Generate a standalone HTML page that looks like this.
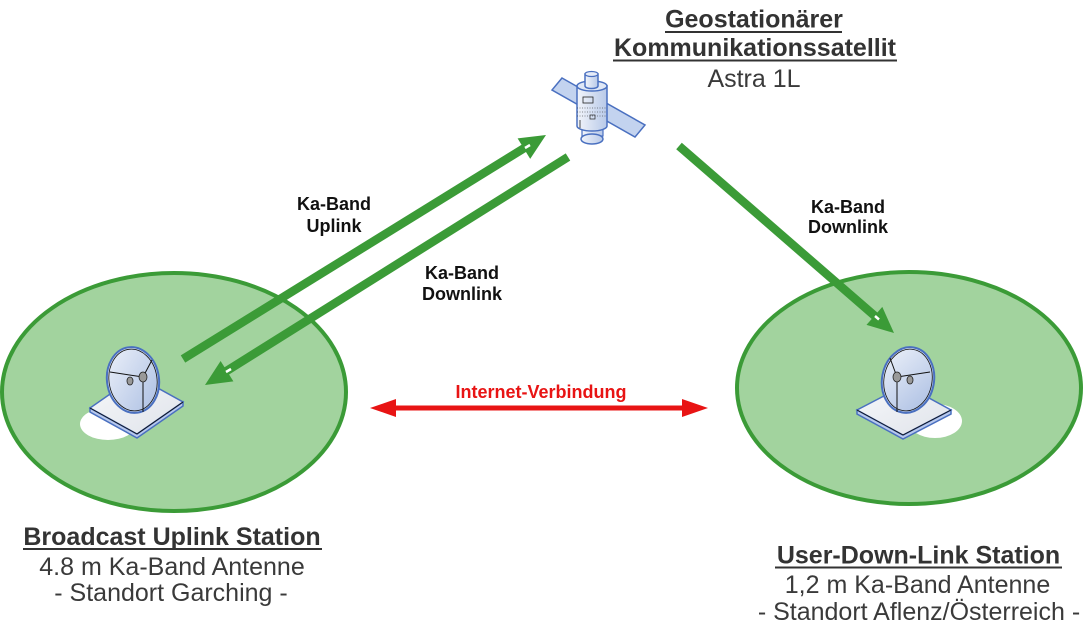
<!DOCTYPE html>
<html><head><meta charset="utf-8">
<style>
html,body{margin:0;padding:0;background:#fff;}
svg{display:block;}
text{font-family:"Liberation Sans",Arial,sans-serif;}
</style></head>
<body>
<svg width="1083" height="633" viewBox="0 0 1083 633" xmlns="http://www.w3.org/2000/svg">
<defs>
<linearGradient id="dish" x1="0" y1="0" x2="1" y2="1">
<stop offset="0" stop-color="#eef2fa"/><stop offset="1" stop-color="#a9bde2"/>
</linearGradient>
<linearGradient id="plate" x1="0" y1="0" x2="1" y2="1">
<stop offset="0" stop-color="#f7f8fa"/><stop offset="1" stop-color="#dfe3ea"/>
</linearGradient>
<linearGradient id="sat" x1="0" y1="0" x2="1" y2="0">
<stop offset="0" stop-color="#f2f5fb"/><stop offset="1" stop-color="#b8c9e8"/>
</linearGradient>
</defs>

<!-- ground ellipses -->
<ellipse cx="174" cy="392" rx="172" ry="119" fill="#a2d39e" stroke="#3b9b37" stroke-width="4"/>
<ellipse cx="909" cy="388" rx="172" ry="116" fill="#a2d39e" stroke="#3b9b37" stroke-width="4"/>

<!-- left antenna -->
<ellipse cx="108" cy="424" rx="28" ry="16" fill="#fff"/>
<polygon points="90,408 90,412 137,438 183,406 183,402 137,434" fill="#b9c9ec" stroke="#4a70c0" stroke-width="1.5"/>
<polygon points="90,408 137,434 183,402 136,376" fill="url(#plate)" stroke="#4a70c0" stroke-width="1.5"/>
<line x1="90" y1="408" x2="137" y2="434" stroke="#111" stroke-width="0.8"/>
<line x1="137" y1="434" x2="183" y2="402" stroke="#111" stroke-width="0.8"/>
<ellipse cx="133" cy="380" rx="26" ry="33" fill="url(#dish)" stroke="#4a70c0" stroke-width="2" transform="rotate(-8 133 380)"/>
<ellipse cx="133" cy="380" rx="24" ry="31" fill="none" stroke="#111" stroke-width="0.8" transform="rotate(-8 133 380)"/>
<line x1="110" y1="372" x2="143" y2="377" stroke="#111" stroke-width="1"/>
<line x1="143" y1="377" x2="152" y2="360" stroke="#111" stroke-width="1"/>
<line x1="143" y1="377" x2="143" y2="412" stroke="#111" stroke-width="1"/>
<ellipse cx="130" cy="381" rx="3" ry="4" fill="#999" stroke="#222" stroke-width="0.8"/>
<ellipse cx="143" cy="377" rx="4" ry="5" fill="#999" stroke="#222" stroke-width="0.8"/>

<!-- right antenna -->
<ellipse cx="935" cy="421" rx="27" ry="17" fill="#fff"/>
<polygon points="857,410 857,414 903,439 951,414 951,410 903,435" fill="#b9c9ec" stroke="#4a70c0" stroke-width="1.5"/>
<polygon points="857,410 903,435 951,410 905,385" fill="url(#plate)" stroke="#4a70c0" stroke-width="1.5"/>
<line x1="857" y1="410" x2="903" y2="435" stroke="#111" stroke-width="0.8"/>
<line x1="903" y1="435" x2="951" y2="410" stroke="#111" stroke-width="0.8"/>
<ellipse cx="908" cy="380" rx="26" ry="33" fill="url(#dish)" stroke="#4a70c0" stroke-width="2" transform="rotate(10 908 380)"/>
<ellipse cx="908" cy="380" rx="24" ry="31" fill="none" stroke="#111" stroke-width="0.8" transform="rotate(10 908 380)"/>
<line x1="897" y1="377" x2="930" y2="372" stroke="#111" stroke-width="1"/>
<line x1="897" y1="377" x2="890" y2="358" stroke="#111" stroke-width="1"/>
<line x1="897" y1="377" x2="897" y2="412" stroke="#111" stroke-width="1"/>
<ellipse cx="910" cy="380" rx="3" ry="4" fill="#999" stroke="#222" stroke-width="0.8"/>
<ellipse cx="897" cy="377" rx="4" ry="5" fill="#999" stroke="#222" stroke-width="0.8"/>

<!-- satellite -->
<polygon points="562,78 645,125 635,137 552,90" fill="#c3d3ef" stroke="#4a70c0" stroke-width="1.5"/>
<rect x="582" y="128" width="21" height="8" fill="url(#sat)" stroke="#4a70c0" stroke-width="1.2"/>
<ellipse cx="592" cy="139" rx="11" ry="5" fill="url(#sat)" stroke="#4a70c0" stroke-width="1.5"/>
<path d="M577,86 L577,126 A15,5 0 0 0 607,126 L607,86 Z" fill="url(#sat)" stroke="#4a70c0" stroke-width="1.5"/>
<ellipse cx="592" cy="86" rx="15" ry="5" fill="#dfe7f6" stroke="#4a70c0" stroke-width="1.5"/>
<path d="M585,74 L585,86 A6.5,2.5 0 0 0 598,86 L598,74 Z" fill="url(#sat)" stroke="#4a70c0" stroke-width="1.5"/>
<ellipse cx="591.5" cy="74" rx="6.5" ry="2.5" fill="#e6ecf8" stroke="#4a70c0" stroke-width="1.2"/>
<rect x="583" y="97" width="10" height="6" fill="none" stroke="#222" stroke-width="0.8"/>
<line x1="577" y1="108" x2="607" y2="108" stroke="#222" stroke-width="0.6" stroke-dasharray="1,1.5"/>
<line x1="577" y1="112" x2="607" y2="112" stroke="#222" stroke-width="0.6" stroke-dasharray="1,1.5"/>
<line x1="577" y1="116" x2="607" y2="116" stroke="#222" stroke-width="0.6" stroke-dasharray="1,1.5"/>
<line x1="580" y1="120" x2="580" y2="128" stroke="#222" stroke-width="0.8"/>
<rect x="590" y="115" width="5" height="4" fill="none" stroke="#222" stroke-width="0.7"/>

<!-- green arrows -->
<g stroke="#3b9b37" stroke-width="8.5" stroke-linecap="butt">
<line x1="183" y1="359" x2="526" y2="147"/>
<line x1="568" y1="157" x2="225" y2="372"/>
<line x1="679" y1="146" x2="876" y2="317"/>
</g>
<g fill="#3b9b37">
<polygon points="546,135 530.2,158.9 517.6,138.4"/>
<polygon points="205,385 233.4,381.4 220.6,361"/>
<polygon points="894,333 866.5,324.9 882.3,306.9"/>
</g>
<g stroke="#fff" stroke-width="2.5">
<line x1="525" y1="148" x2="530" y2="145"/>
<line x1="226" y1="372" x2="231" y2="369"/>
<line x1="875" y1="316" x2="879" y2="319.5"/>
</g>

<!-- red arrow -->
<line x1="390" y1="408" x2="688" y2="408" stroke="#e81414" stroke-width="5"/>
<polygon points="370,408 396,399 396,417" fill="#e81414"/>
<polygon points="708,408 682,399 682,417" fill="#e81414"/>
<text x="541" y="398" font-size="18" font-weight="bold" fill="#e81414" text-anchor="middle">Internet-Verbindung</text>

<!-- link labels -->
<g font-size="18" font-weight="bold" fill="#111" text-anchor="middle">
<text x="334" y="210">Ka-Band</text>
<text x="334" y="232">Uplink</text>
<text x="462" y="279">Ka-Band</text>
<text x="462" y="300">Downlink</text>
<text x="848" y="213">Ka-Band</text>
<text x="848" y="233">Downlink</text>
</g>

<!-- satellite title -->
<g fill="#333" text-anchor="middle" font-size="25">
<text x="754" y="27.5" font-weight="bold">Geostationärer</text>
<text x="755" y="56" font-weight="bold">Kommunikationssatellit</text>
<text x="754" y="87" fill="#3a3a3a">Astra 1L</text>
</g>
<rect x="665" y="31" width="177" height="2" fill="#333"/>
<rect x="613" y="59.5" width="284" height="2" fill="#333"/>

<!-- station labels -->
<g fill="#333" text-anchor="middle" font-size="25">
<text x="172" y="545" font-weight="bold">Broadcast Uplink Station</text>
<text x="172" y="575" fill="#3a3a3a">4.8 m Ka-Band Antenne</text>
<text x="171" y="601" fill="#3a3a3a">- Standort Garching -</text>
<text x="918.5" y="563.5" font-weight="bold">User-Down-Link Station</text>
<text x="917.5" y="593" fill="#3a3a3a">1,2 m Ka-Band Antenne</text>
<text x="919" y="620" fill="#3a3a3a">- Standort Aflenz/Österreich -</text>
</g>
<rect x="23" y="548" width="299" height="2" fill="#333"/>
<rect x="775" y="566.5" width="287" height="2" fill="#333"/>
</svg>
</body></html>
